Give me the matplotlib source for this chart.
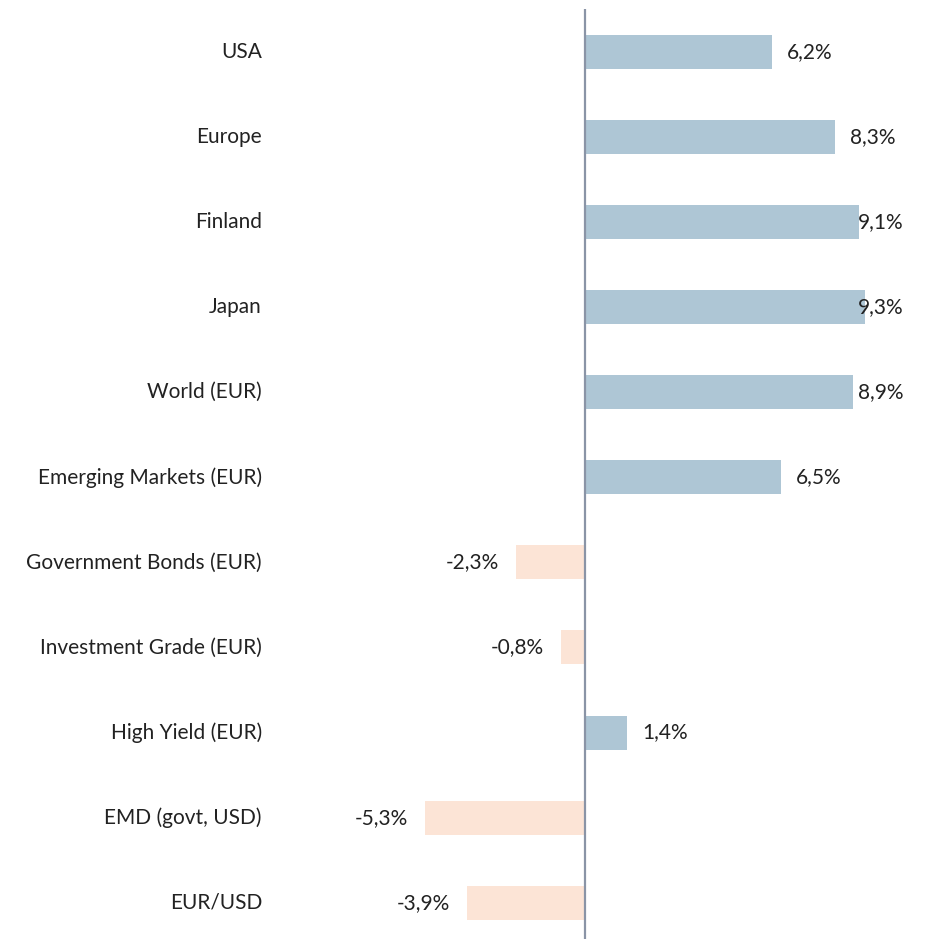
import matplotlib.pyplot as plt
import matplotlib.transforms as mtransforms

categories = ['USA', 'Europe', 'Finland', 'Japan', 'World (EUR)',
              'Emerging Markets (EUR)', 'Government Bonds (EUR)',
              'Investment Grade (EUR)', 'High Yield (EUR)',
              'EMD (govt, USD)', 'EUR/USD']
values = [6.2, 8.3, 9.1, 9.3, 8.9, 6.5, -2.3, -0.8, 1.4, -5.3, -3.9]

POS_COLOR = '#aec6d5'
NEG_COLOR = '#fce4d6'
TEXT_COLOR = '#222222'
FS = 15

plt.rcParams['font.family'] = ['Lato', 'DejaVu Sans']

fig = plt.figure(figsize=(9.26, 9.39), dpi=100)
ax = fig.add_axes([283.5 / 926, -2 / 939, 633 / 926, 931.6 / 939])

y = list(range(len(categories)))
colors = [POS_COLOR if v >= 0 else NEG_COLOR for v in values]
ax.barh(y, values, height=0.4, color=colors)

ax.set_xlim(-10, 11)
ax.set_ylim(10.45, -0.5)

# value labels, positive ones are kept from running past the right side
for i, v in enumerate(values):
    txt = f'{v:.1f}%'.replace('.', ',')
    if v >= 0:
        ax.text(min(v + 0.5, 9.06), i, txt, ha='left', va='center',
                fontsize=FS, color=TEXT_COLOR)
    else:
        ax.text(v - 0.56, i, txt, ha='right', va='center',
                fontsize=FS, color=TEXT_COLOR)

# category names to the left
label_tf = mtransforms.blended_transform_factory(fig.transFigure, ax.transData)
for i, c in enumerate(categories):
    ax.text(262 / 926, i, c, ha='right', va='center', fontsize=FS,
            color=TEXT_COLOR, transform=label_tf)

ax.axvline(0, color='#8a94a6', linewidth=1.6)

for s in ax.spines.values():
    s.set_visible(False)
ax.set_xticks([])
ax.set_yticks([])

fig.savefig('out.png', dpi=100)
